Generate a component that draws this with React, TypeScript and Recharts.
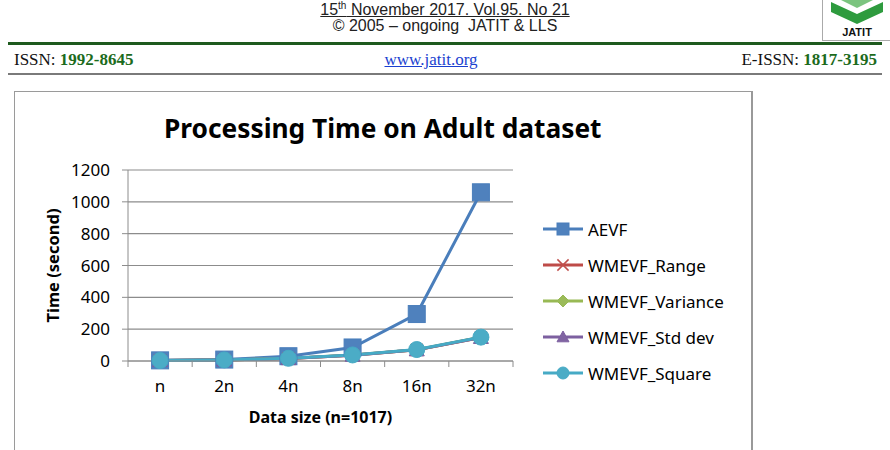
import React from 'react';
import { CartesianGrid, Label, Legend, Line, LineChart, XAxis, YAxis } from 'recharts';

const sizes = ['n', '2n', '4n', '8n', '16n', '32n'];
const aevf = [4, 9, 30, 85, 295, 1060];
const wmevfRange = [3, 6, 15, 36, 70, 148];
const wmevfVariance = [3, 6, 16, 37, 71, 149];
const wmevfStdDev = [3, 6, 15, 36, 70, 148];
const wmevfSquare = [3, 7, 17, 38, 72, 150];
const yTicks = [0, 200, 400, 600, 800, 1000, 1200];

type Shape = 'square' | 'x' | 'diamond' | 'triangle' | 'circle';

const series: { key: string; name: string; color: string; fill: string; shape: Shape; values: number[] }[] = [
  { key: 'aevf', name: 'AEVF', color: '#4A7EBB', fill: '#4F81BD', shape: 'square', values: aevf },
  { key: 'range', name: 'WMEVF_Range', color: '#BE4B48', fill: '#C0504D', shape: 'x', values: wmevfRange },
  { key: 'variance', name: 'WMEVF_Variance', color: '#98B954', fill: '#9BBB59', shape: 'diamond', values: wmevfVariance },
  { key: 'stddev', name: 'WMEVF_Std dev', color: '#7D60A0', fill: '#8064A2', shape: 'triangle', values: wmevfStdDev },
  { key: 'square', name: 'WMEVF_Square', color: '#46AAC5', fill: '#4BACC6', shape: 'circle', values: wmevfSquare },
];

const data = sizes.map((size, i) => {
  const row: Record<string, string | number> = { size };
  series.forEach((s) => (row[s.key] = s.values[i]));
  return row;
});

const FONT = '"Noto Sans", sans-serif';
const GRID = '#8C8C8C';

function Marker({ shape, cx, cy, color, fill, r }: { shape: Shape; cx: number; cy: number; color: string; fill: string; r: number }) {
  if (shape === 'square') return <rect x={cx - r} y={cy - r} width={r * 2} height={r * 2} fill={fill} stroke={color} strokeWidth={1} />;
  if (shape === 'circle') return <circle cx={cx} cy={cy} r={r} fill={fill} stroke={color} strokeWidth={1} />;
  if (shape === 'diamond')
    return <polygon points={`${cx},${cy - r} ${cx + r},${cy} ${cx},${cy + r} ${cx - r},${cy}`} fill={fill} stroke={color} />;
  if (shape === 'triangle')
    return <polygon points={`${cx},${cy - r} ${cx + r},${cy + r * 0.8} ${cx - r},${cy + r * 0.8}`} fill={fill} stroke={color} />;
  const d = r * 0.8;
  return (
    <g stroke={fill} strokeWidth={1.5}>
      <line x1={cx - d} y1={cy - d} x2={cx + d} y2={cy + d} />
      <line x1={cx - d} y1={cy + d} x2={cx + d} y2={cy - d} />
    </g>
  );
}

function makeDot(s: (typeof series)[number]) {
  const r = s.shape === 'square' ? 8.5 : s.shape === 'circle' ? 8 : 7.5;
  return (props: any) => (
    <Marker key={`${s.key}-${props.index}`} shape={s.shape} cx={props.cx} cy={props.cy} color={s.color} fill={s.fill} r={r} />
  );
}

function XTick(props: any) {
  const { x, y, payload, width, visibleTicksCount, index } = props;
  const bw = width / visibleTicksCount;
  return (
    <g>
      <line x1={x - bw / 2} y1={y} x2={x - bw / 2} y2={y + 6} stroke={GRID} />
      {index === visibleTicksCount - 1 && <line x1={x + bw / 2} y1={y} x2={x + bw / 2} y2={y + 6} stroke={GRID} />}
      <text x={x} y={y + 31} textAnchor="middle" fill="#000" fontSize={17} fontFamily={FONT}>
        {payload.value}
      </text>
    </g>
  );
}

function LegendContent() {
  return (
    <div style={{ fontFamily: FONT, fontSize: 17, color: '#000' }}>
      {series.map((s) => (
        <div key={s.key} style={{ height: 36, display: 'flex', alignItems: 'center' }}>
          <svg width={44} height={20} style={{ marginRight: 1 }}>
            <line x1={0} y1={10} x2={40} y2={10} stroke={s.color} strokeWidth={3} />
            <Marker shape={s.shape} cx={20} cy={10} color={s.color} fill={s.fill} r={s.shape === 'x' ? 7 : 6} />
          </svg>
          <span style={{ whiteSpace: 'nowrap' }}>{s.name}</span>
        </div>
      ))}
    </div>
  );
}

function Header() {
  return (
    <>
      <div style={{ position: 'absolute', left: 0, top: 2, width: 890, textAlign: 'center', fontFamily: '"Liberation Sans", Arial', fontSize: 16, lineHeight: '16px', color: '#222' }}>
        <div style={{ textDecoration: 'underline' }}>
          15<sup style={{ fontSize: 10, lineHeight: 0 }}>th</sup> November 2017. Vol.95. No 21
        </div>
        <div>© 2005 – ongoing&nbsp; JATIT &amp; LLS</div>
      </div>
      <div style={{ position: 'absolute', left: 822, top: -2, width: 68, height: 42, borderLeft: '1px solid #aaa', borderBottom: '1px solid #aaa' }}>
        <svg width={68} height={42}>
          <polygon points="8,4 34,16 60,4 60,14 34,26 8,14" fill="#2E9B3E" />
          <polygon points="14,0 34,10 54,0" fill="#7BC47F" />
          <text x={34} y={38} textAnchor="middle" fontFamily='"Liberation Sans", Arial' fontWeight="bold" fontSize={11} fill="#111">JATIT</text>
        </svg>
      </div>
      <div style={{ position: 'absolute', left: 8, top: 42, width: 874, height: 3, background: '#1E5A1E' }} />
      <div style={{ position: 'absolute', left: 14, top: 50, fontFamily: '"Liberation Serif", serif', fontSize: 17, color: '#111' }}>
        ISSN: <b style={{ color: '#1C6B1C' }}>1992-8645</b>
      </div>
      <div style={{ position: 'absolute', left: 0, top: 50, width: 862, textAlign: 'center', fontFamily: '"Liberation Serif", serif', fontSize: 17, color: '#1a3fd0', textDecoration: 'underline' }}>
        www.jatit.org
      </div>
      <div style={{ position: 'absolute', right: 13, top: 50, fontFamily: '"Liberation Serif", serif', fontSize: 17, color: '#111' }}>
        E-ISSN: <b style={{ color: '#1C6B1C' }}>1817-3195</b>
      </div>
      <div style={{ position: 'absolute', left: 8, top: 73, width: 874, height: 2, background: '#7A7A7A' }} />
    </>
  );
}

export default function App() {
  return (
    <div style={{ position: 'absolute', left: 0, top: 0, width: 890, height: 450, overflow: 'hidden', background: '#fff' }}>
      <Header />
      <div style={{ position: 'absolute', left: 14, top: 91, width: 736, height: 400, border: '1px solid #9A9A9A', borderRight: '2px solid #999' }}>
        <div style={{ position: 'absolute', left: 149, top: 18, whiteSpace: 'nowrap', fontFamily: FONT, fontWeight: 'bold', fontSize: 26.3, color: '#000' }}>
          Processing Time on Adult dataset
        </div>
        <LineChart width={736} height={400} data={data} margin={{ top: 78, right: 238, bottom: 71, left: 0 }}>
          <CartesianGrid vertical={false} stroke={GRID} strokeWidth={1.2} />
          <XAxis
            dataKey="size"
            scale="band"
            height={60}
            axisLine={{ stroke: GRID }}
            tickLine={false}
            tickSize={0}
            tickMargin={0}
            tick={<XTick />}
            interval={0}
          >
            <Label value="Data size (n=1017)" position="center" dy={26} fontFamily={FONT} fontWeight="bold" fontSize={16} fill="#000" />
          </XAxis>
          <YAxis
            width={113}
            domain={[0, 1200]}
            ticks={yTicks}
            interval={0}
            axisLine={{ stroke: GRID }}
            tickLine={{ stroke: GRID }}
            tickSize={6}
            tickMargin={12}
            tick={{ fill: '#000', fontSize: 17, fontFamily: FONT }}
          >
            <Label value="Time (second)" position="center" angle={-90} dx={-18} fontFamily={FONT} fontWeight="bold" fontSize={16.5} fill="#000" />
          </YAxis>
          <Legend
            layout="horizontal"
            align="center"
            verticalAlign="middle"
            content={<LegendContent />}
            wrapperStyle={{ left: 528, top: 119, width: 200 }}
          />
          {series.map((s) => (
            <Line
              key={s.key}
              dataKey={s.key}
              name={s.name}
              type="linear"
              stroke={s.color}
              strokeWidth={3}
              dot={makeDot(s)}
              activeDot={false}
              isAnimationActive={false}
            />
          ))}
        </LineChart>
      </div>
    </div>
  );
}
